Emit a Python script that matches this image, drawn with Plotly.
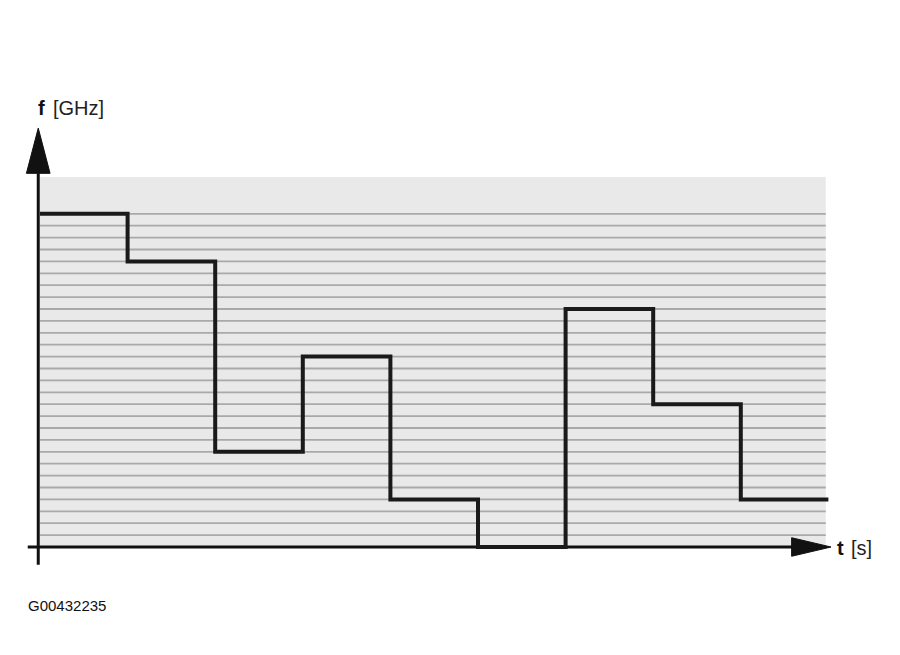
import plotly.graph_objects as go

# step signal: frequency level held for each 1 s slot
step_times = [0, 1, 2, 3, 4, 5, 6, 7, 8, 9]
step_levels = [28, 24, 8, 16, 4, 0, 20, 12, 4, 4]

# horizontal channel lines in the grey band
grid_levels = list(range(1, 29))
band_top = 31.1
band_end = 8.97

x_label = "t"
x_unit = "[s]"
y_label = "f"
y_unit = "[GHz]"
code_text = "G00432235"

fig = go.Figure()

# grey band behind the signal
fig.add_trace(go.Scatter(
    x=[0, band_end, band_end, 0, 0], y=[0, 0, band_top, band_top, 0],
    mode="lines", fill="toself", fillcolor="#e9e9e9",
    line=dict(width=0), hoverinfo="skip", showlegend=False))

# channel lines
gx, gy = [], []
for lv in grid_levels:
    gx += [0, band_end, None]
    gy += [lv, lv, None]
fig.add_trace(go.Scatter(x=gx, y=gy, mode="lines",
                         line=dict(color="#a9a9a9", width=1.8),
                         hoverinfo="skip", showlegend=False))

# axes with arrow heads
fig.add_trace(go.Scatter(x=[-0.14, 8.6], y=[0, 0], mode="lines",
                         line=dict(color="#111111", width=3),
                         hoverinfo="skip", showlegend=False))
fig.add_trace(go.Scatter(x=[-0.02, -0.02], y=[-1.5, 31.4], mode="lines",
                         line=dict(color="#111111", width=3),
                         hoverinfo="skip", showlegend=False))
fig.add_trace(go.Scatter(x=[8.58, 9.03, 8.58, 8.58], y=[-0.78, 0, 0.78, -0.78],
                         mode="lines", fill="toself", fillcolor="#111111",
                         line=dict(color="#111111", width=1),
                         hoverinfo="skip", showlegend=False))
fig.add_trace(go.Scatter(x=[-0.155, -0.02, 0.115, -0.155], y=[31.4, 35.2, 31.4, 31.4],
                         mode="lines", fill="toself", fillcolor="#111111",
                         line=dict(color="#111111", width=1),
                         hoverinfo="skip", showlegend=False))

# the signal itself
fig.add_trace(go.Scatter(x=step_times, y=step_levels, mode="lines",
                         line=dict(color="#1a1a1a", width=4, shape="hv"),
                         hoverinfo="skip", showlegend=False))

fig.add_annotation(x=-0.05, y=36.9, xanchor="left", yanchor="middle", showarrow=False,
                   text="<b>" + y_label + "</b>",
                   font=dict(family="Liberation Sans, Arial", size=20, color="#111111"))
fig.add_annotation(x=0.12, y=36.9, xanchor="left", yanchor="middle", showarrow=False,
                   text=y_unit,
                   font=dict(family="Liberation Sans, Arial", size=20, color="#222222"))
fig.add_annotation(x=9.08, y=-0.1, xanchor="left", yanchor="middle", showarrow=False,
                   text="<b>" + x_label + "</b>",
                   font=dict(family="Liberation Sans, Arial", size=20, color="#111111"))
fig.add_annotation(x=9.23, y=-0.1, xanchor="left", yanchor="middle", showarrow=False,
                   text=x_unit,
                   font=dict(family="Liberation Sans, Arial", size=20, color="#222222"))
fig.add_annotation(x=-0.16, y=-4.9, xanchor="left", yanchor="middle", showarrow=False,
                   text=code_text,
                   font=dict(family="Liberation Sans, Arial", size=15, color="#111111"))

# the page body adds an 8 px offset, so pixel 40/547 lands at 32/539 in figure space
fig.update_layout(
    width=900, height=655,
    margin=dict(l=0, r=0, t=0, b=0),
    paper_bgcolor="white", plot_bgcolor="white",
    xaxis=dict(range=[-32 / 87.6, 868 / 87.6], visible=False, fixedrange=True),
    yaxis=dict(range=[-116 / 11.9, 539 / 11.9], visible=False, fixedrange=True),
)

fig.write_html("out.html")
